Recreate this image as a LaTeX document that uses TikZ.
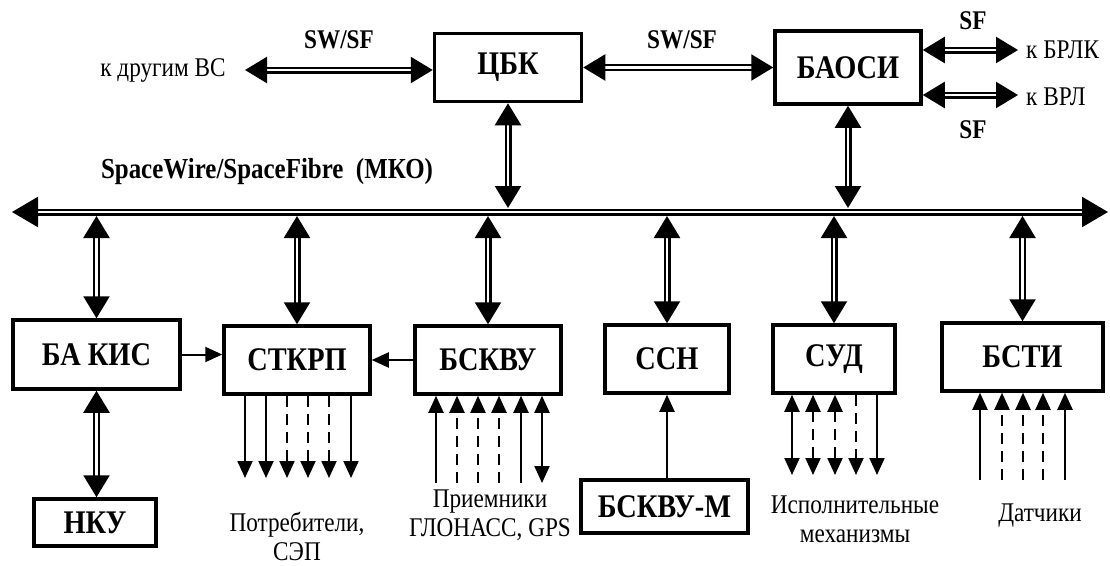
\documentclass[tikz,border=0pt]{standalone}
\usepackage{fontspec}
\setmainfont{Liberation Serif}
\newfontfamily\condf[FakeStretch=0.86]{Liberation Serif}
\usetikzlibrary{arrows.meta}
\begin{document}
\begin{tikzpicture}[x=1pt,y=-1pt,
  box/.style={draw, line width=3.5pt, inner sep=0pt, font=\condf\fontsize{33}{34}\selectfont\bfseries},
  lbl/.style={font=\condf\fontsize{27}{29}\selectfont, inner sep=0pt, align=center},
  blbl/.style={font=\condf\fontsize{27}{29}\selectfont\bfseries, inner sep=0pt},
  dbl/.style={double, double distance=2.4pt, line width=2.3pt,
    {Triangle[length=22pt,width=26pt]}-{Triangle[length=22pt,width=26pt]}},
  busarr/.style={double, double distance=2.4pt, line width=2.3pt,
    {Triangle[length=26pt,width=30pt]}-{Triangle[length=26pt,width=30pt]}},
  sarr/.style={line width=2pt, -{Triangle[length=17pt,width=15pt]}},
  darr/.style={line width=2pt, {Triangle[length=17pt,width=15pt]}-{Triangle[length=17pt,width=15pt]}},
  dsh/.style={dash pattern=on 11pt off 7pt}
]
\useasboundingbox[fill=white] (0,0) rectangle (1110,565);

% top boxes
\node[box, minimum width=147pt, minimum height=68pt] (cbk) at (508,67.5) {ЦБК};
\node[box, minimum width=146pt, minimum height=73pt] (baosi) at (848,67.5) {БАОСИ};

% lower boxes
\node[box, minimum width=167pt, minimum height=69pt] (bakis) at (96.5,354.5) {БА КИС};
\node[box, minimum width=122pt, minimum height=47pt] (nku) at (95,522.5) {НКУ};
\node[box, minimum width=146pt, minimum height=68pt] (stkrp) at (297,360) {СТКРП};
\node[box, minimum width=146pt, minimum height=68pt] (bskvu) at (488,360) {БСКВУ};
\node[box, minimum width=124pt, minimum height=68pt] (ssn) at (667,359) {ССН};
\node[box, minimum width=122pt, minimum height=68pt] (sud) at (834,359) {СУД};
\node[box, minimum width=161pt, minimum height=68pt] (bsti) at (1022.5,357) {БСТИ};
\node[box, minimum width=167pt, minimum height=53pt] (bskvum) at (664.5,506.5) {БСКВУ-М};

% texts
\node[lbl] (kdr) at (163,70) {к другим ВС};
\node[blbl] (sw1) at (339,40) {SW/SF};
\node[blbl] (sw2) at (682,40) {SW/SF};
\node[blbl] (sf1) at (973,21) {SF};
\node[blbl] (sf2) at (973,130) {SF};
\node[lbl, anchor=west] (brlk) at (1026,50) {к БРЛК};
\node[lbl, anchor=west] (vrl) at (1026,97) {к ВРЛ};
\node[blbl, font=\condf\fontsize{29}{31}\selectfont\bfseries] (swbus) at (267,172) {SpaceWire/SpaceFibre\ \ (МКО)};
\node[lbl] (potr) at (297,536) {Потребители,\\СЭП};
\node[lbl] (prm) at (490,515) {Приемники\\ГЛОНАСС, GPS};
\node[lbl] (isp) at (855,519) {Исполнительные\\механизмы};
\node[lbl] (dat) at (1040,516) {Датчики};

% bus
\coordinate (busL) at (12,212);
\coordinate (busR) at (1108,212);
\coordinate (busT) at (0,208);
\coordinate (busB) at (0,216);
\draw[busarr] (busL) -- (busR);

% top connectors
\coordinate (kdrE) at (245,70);
\draw[dbl] (kdrE) -- (kdrE -| cbk.west);
\draw[dbl] (cbk.east) -- (baosi.west);
\coordinate (brlkE) at (1018,50);
\coordinate (vrlE) at (1018,95);
\draw[dbl] (brlkE -| baosi.east) -- (brlkE);
\draw[dbl] (vrlE -| baosi.east) -- (vrlE);
\draw[dbl] (cbk.south) -- (cbk.south |- busT);
\draw[dbl] (baosi.south) -- (baosi.south |- busT);

% bus to boxes
\foreach \n in {bakis,stkrp,bskvu,ssn,sud,bsti}
  \draw[dbl] (\n.north |- busB) -- (\n.north);
\draw[dbl] (bakis.south) -- (nku.north -| bakis.south);

% horizontal single arrows
\draw[sarr] (bakis.east) -- (stkrp.west |- bakis.east);
\draw[sarr] (bskvu.west) -- (stkrp.east);
\draw[sarr] (bskvum.north -| ssn.south) -- (ssn.south);

% STKRP outputs
\foreach \x/\s [count=\i] in {245/solid,266/solid,287/dsh,308/dsh,329/dsh,351/solid} {
  \coordinate (p\i) at (\x,478);
  \draw[sarr,\s] (stkrp.south -| p\i) -- (p\i);
}
% BSKVU inputs
\foreach \x/\s [count=\i] in {436/solid,457/dsh,478/dsh,499/dsh,521/solid} {
  \coordinate (q\i) at (\x,483);
  \draw[sarr,\s] (q\i) -- (bskvu.south -| q\i);
}
\coordinate (q6) at (542,483);
\draw[darr] (bskvu.south -| q6) -- (q6);
% SUD
\foreach \x/\s [count=\i] in {792/solid,813/dsh,835/dsh} {
  \coordinate (r\i) at (\x,475);
  \draw[darr,\s] (sud.south -| r\i) -- (r\i);
}
\coordinate (r4) at (856,475);
\coordinate (r5) at (877,475);
\draw[sarr,dsh] (sud.south -| r4) -- (r4);
\draw[sarr] (sud.south -| r5) -- (r5);
% BSTI inputs
\foreach \x/\s [count=\i] in {980/solid,1002/dsh,1023/dsh,1043/dsh,1065/solid} {
  \coordinate (t\i) at (\x,480);
  \draw[sarr,\s] (t\i) -- (bsti.south -| t\i);
}
\end{tikzpicture}
\end{document}
